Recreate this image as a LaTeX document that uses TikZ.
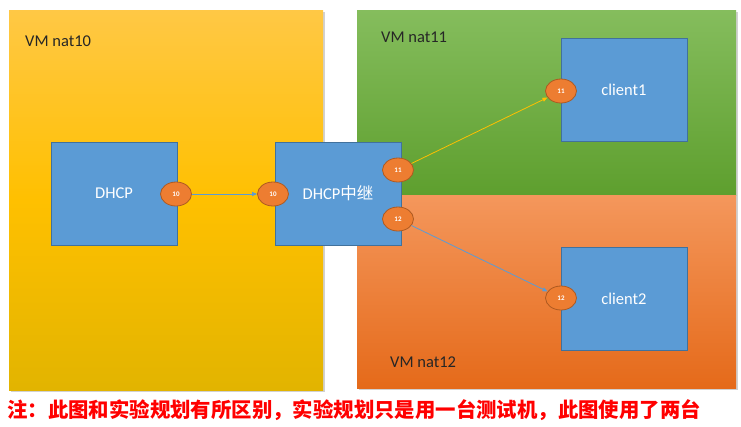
\documentclass[tikz,border=0pt]{standalone}
\usepackage{fontspec}
\setmainfont{Carlito}
\newfontfamily\cjk{Noto Sans CJK SC}
\usetikzlibrary{shapes.geometric,arrows.meta}
\definecolor{boxblue}{HTML}{5B9BD5}
\definecolor{boxedge}{HTML}{41719C}
\definecolor{portfill}{HTML}{ED7D31}
\definecolor{portedge}{HTML}{AE5A21}
\definecolor{ytop}{HTML}{FFC845}
\definecolor{ymid}{HTML}{FFC000}
\definecolor{ybot}{HTML}{E2B400}
\definecolor{gtop}{HTML}{85BD5D}
\definecolor{gbot}{HTML}{5E9F2E}
\definecolor{otop}{HTML}{F4975C}
\definecolor{obot}{HTML}{E56A1A}
\definecolor{arrowyellow}{HTML}{FFC000}
\tikzset{
  hostbox/.style={draw=boxedge, fill=boxblue, line width=0.8pt, minimum width=126pt, minimum height=103pt, inner sep=0pt, text=white, font=\fontsize{16.5}{18}\selectfont},
  port/.style={ellipse, draw=portedge, fill=portfill, line width=0.8pt, minimum width=31pt, minimum height=24pt, inner sep=0pt, text=white, font=\fontsize{7}{8}\selectfont\bfseries},
  vmlabel/.style={anchor=west, inner sep=0pt, text=black!85, font=\fontsize{16.5}{18}\selectfont},
  link/.style={line width=0.8pt, -{Triangle[length=5pt,width=4pt]}},
  shadowbox/.style={fill=black!18}
}
\begin{document}
\begin{tikzpicture}[x=1pt,y=-1pt]
\useasboundingbox (0,0) rectangle (741,426);
\fill[white] (0,0) rectangle (741,426);
% shadows
\fill[shadowbox] (11,12) rectangle (325,392);
\fill[shadowbox] (359,12) rectangle (738,390);
% panels
\shade[top color=ytop, bottom color=ybot, middle color=ymid] (9,10) rectangle (323,390);
\shade[top color=gtop, bottom color=gbot] (357,10) rectangle (736,195);
\shade[top color=otop, bottom color=obot] (357,195) rectangle (736,388);
% labels
\node[vmlabel] (l10) at (25,41) {VM nat10};
\node[vmlabel] (l11) at (381,37) {VM nat11};
\node[vmlabel] (l12) at (390,362) {VM nat12};
% hosts
\node[hostbox] (dhcp) at (114,193.5) {DHCP};
\node[hostbox] (relay) at (338,193.5) {DHCP{\cjk 中继}};
\node[hostbox] (c1) at (624,89.5) {client1};
\node[hostbox] (c2) at (624,298.5) {client2};
% ports
\node[port] (p10a) at (176,194) {10};
\node[port] (p10b) at (273,194) {10};
\node[port] (p11a) at (398,170) {11};
\node[port] (p12a) at (398,219) {12};
\node[port] (p11b) at (561,91) {11};
\node[port] (p12b) at (561,298) {12};
% links
\draw[link, draw=boxblue, color=boxblue] (p10a) -- (p10b);
\draw[link, draw=arrowyellow, color=arrowyellow] (p11a) -- (p11b);
\draw[link, draw=boxblue, color=boxblue] (p12a) -- (p12b);
% note
\node[anchor=west, inner sep=0pt, text=red, font=\cjk\fontsize{20.4}{22}\selectfont\bfseries] (note) at (7,410) {注：此图和实验规划有所区别，实验规划只是用一台测试机，此图使用了两台};
\end{tikzpicture}
\end{document}
